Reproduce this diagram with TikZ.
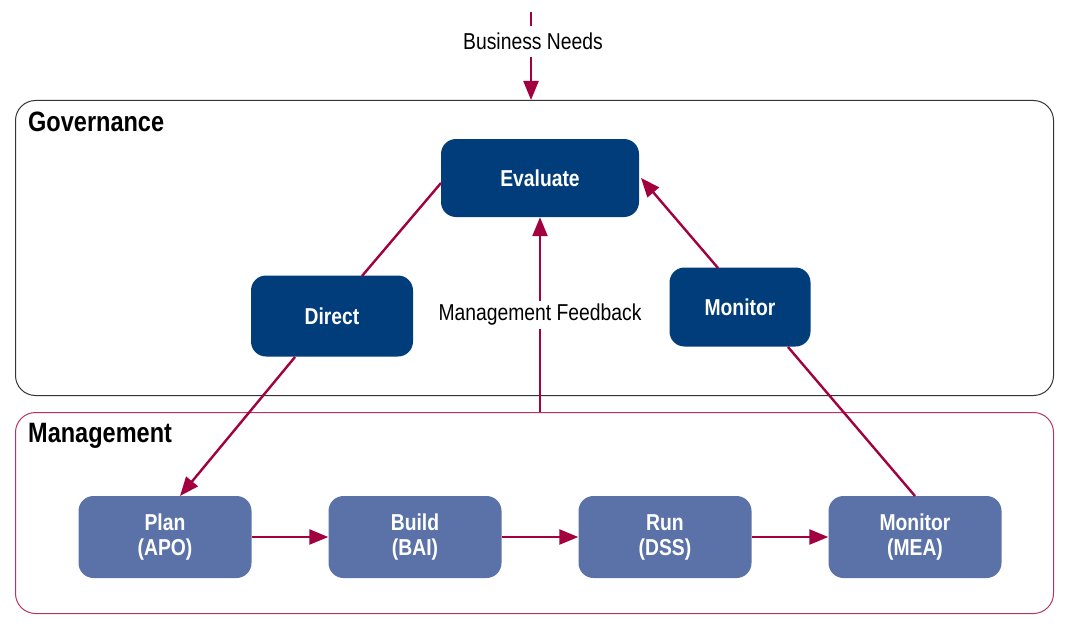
\documentclass[tikz,border=0pt]{standalone}
\usepackage{fontspec}
\setmainfont{Liberation Sans}[FakeStretch=0.84]
\usetikzlibrary{arrows.meta}
\definecolor{govblue}{HTML}{003D7A}
\definecolor{mgmtblue}{HTML}{5B72A8}
\definecolor{crim}{HTML}{A2003E}
\tikzset{
  gov/.style={draw=none,fill=govblue,rounded corners=15pt,text=white,font=\bfseries\fontsize{23}{25}\selectfont,align=center},
  mgmt/.style={draw=none,fill=mgmtblue,rounded corners=15pt,text=white,font=\bfseries\fontsize{23}{25}\selectfont,align=center,minimum width=173pt,minimum height=82pt},
  link/.style={draw=crim,line width=2.4pt},
  arr/.style={link,-{Triangle[length=19pt,width=15pt]}},
  lbl/.style={font=\fontsize{23}{25}\selectfont},
  area/.style={rounded corners=20pt,line width=1pt}
}
\begin{document}
\begin{tikzpicture}[x=1pt,y=-1pt]
\useasboundingbox (0,0) rectangle (1077,626);
\node[area,draw=black!80,minimum width=1038pt,minimum height=295pt,anchor=north west] (govarea) at (15,100) {};
\node[area,draw=crim!80,minimum width=1038pt,minimum height=201pt,anchor=north west] (mgmtarea) at (15,412) {};
\node[anchor=west,inner sep=0pt,font=\bfseries\fontsize{28}{30}\selectfont] (govlbl) at (28,122) {Governance};
\node[anchor=west,inner sep=0pt,font=\bfseries\fontsize{28}{30}\selectfont] (mgmtlbl) at (28,436) {Management};

\node[gov,minimum width=198pt,minimum height=78pt] (eval) at (540,178) {Evaluate};
\node[gov,minimum width=162pt,minimum height=81pt] (direct) at (332,316) {Direct};
\node[gov,minimum width=141pt,minimum height=79pt] (mon) at (740,307) {Monitor};

\node[mgmt] (plan) at (165,537) {Plan\\(APO)};
\node[mgmt] (build) at (415,537) {Build\\(BAI)};
\node[mgmt] (run) at (665,537) {Run\\(DSS)};
\node[mgmt] (mea) at (915,537) {Monitor\\(MEA)};

\coordinate (bntop) at (531,12);
\coordinate (bnmid) at (531,57);
\draw[link] (bntop) -- (531,26);
\draw[arr] (bnmid) -- (govarea.north -| bntop);
\node[lbl,fill=white,inner sep=3pt] (bn) at (533,41) {Business Needs};

\coordinate (fbstart) at (540,412);
\draw[arr] (fbstart) -- (eval.south);
\node[lbl,fill=white,inner sep=3pt] (fb) at (540,315) {Management Feedback};

\draw[link] (441,183) -- (362,276);
\draw[arr] (295,357) -- (180,496);
\draw[link] (915,496) -- (788,347);
\draw[arr] (718,268) -- (641,178);

\draw[arr] (plan) -- (build);
\draw[arr] (build) -- (run);
\draw[arr] (run) -- (mea);
\end{tikzpicture}
\end{document}
